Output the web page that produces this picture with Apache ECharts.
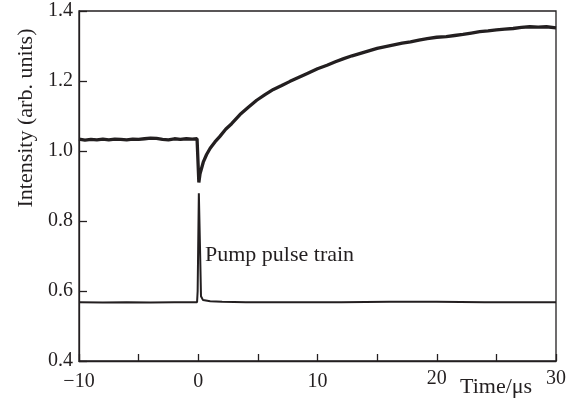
<!DOCTYPE html>
<html>
<head>
<meta charset="utf-8">
<script src="https://cdn.jsdelivr.net/npm/echarts@6/dist/echarts.min.js"></script>
<style>html,body{margin:0;padding:0;background:#fff}#c{width:574px;height:398px}</style>
</head>
<body>
<div id="c"></div>
<script>
// Upper trace: probe intensity (time in µs, intensity arb. units)
var upperTime = [-10,-9.5,-9,-8.5,-8,-7.5,-7,-6.5,-6,-5.5,-5,-4.5,-4,-3.5,-3,-2.5,-2,-1.5,-1,-0.5,-0.1,0.0,0.05,0.15,0.42,0.7,1.0,1.4,1.8,2.3,2.8,3.5,4.2,4.9,5.6,6.3,7.0,7.7,8.4,9.1,10.0,10.8,11.5,12.2,12.9,13.6,14.3,15.0,15.7,16.4,17.1,17.8,18.5,19.2,20.0,20.8,21.5,22.2,22.9,23.6,24.3,25.0,25.7,26.4,27.1,27.8,28.5,29.2,30.0];
var upperValue = [1.034,1.031,1.033,1.032,1.034,1.032,1.034,1.033,1.032,1.034,1.033,1.035,1.037,1.036,1.033,1.032,1.035,1.033,1.035,1.034,1.035,1.030,0.910,0.935,0.968,0.990,1.008,1.026,1.041,1.062,1.078,1.104,1.125,1.145,1.161,1.176,1.187,1.199,1.210,1.221,1.235,1.245,1.255,1.264,1.272,1.279,1.286,1.293,1.298,1.303,1.308,1.312,1.317,1.321,1.325,1.327,1.330,1.333,1.337,1.341,1.343,1.346,1.348,1.350,1.353,1.355,1.354,1.355,1.352];
// Lower trace: pump pulse train
var lowerTime = [-10,-8,-6,-4,-2,-0.1,-0.05,0.05,0.15,0.23,0.4,1,2,4,8,12,16,20,24,28,30];
var lowerValue = [0.568,0.567,0.568,0.567,0.568,0.568,0.600,0.879,0.720,0.585,0.574,0.571,0.569,0.568,0.568,0.568,0.569,0.569,0.568,0.568,0.568];
var xTicks = {min: -10, max: 30, step: 5, labelStep: 10};
var yTicks = {min: 0.4, max: 1.4, step: 0.2};
var xName = 'Time/μs';
var yName = 'Intensity (arb. units)';
var annotation = 'Pump pulse train';

function zip(a, b) { return a.map(function (v, i) { return [v, b[i]]; }); }

var ink = '#231f20';
var font = "'Liberation Serif', 'Times New Roman', serif";
var chart = echarts.init(document.getElementById('c'));
chart.setOption({
  animation: false,
  backgroundColor: '#fff',
  grid: {left: 79, right: 18, top: 11, bottom: 37, show: true, borderColor: ink, borderWidth: 1.3, backgroundColor: 'transparent'},
  xAxis: {
    type: 'value', min: xTicks.min, max: xTicks.max, interval: xTicks.step,
    axisLine: {show: true, onZero: false, lineStyle: {color: ink, width: 1.3}},
    axisTick: {show: true, inside: true, length: 7, lineStyle: {color: ink, width: 1.3}},
    splitLine: {show: false},
    axisLabel: {
      color: ink, fontFamily: font, fontSize: 20, margin: 8,
      formatter: function (v) {
        if (Math.abs(v % xTicks.labelStep) > 1e-9) return '';
        var s = v < 0 ? '\u2212' + Math.abs(v) : String(v);
        return v >= 20 ? '{hi|' + s + '}' : '{lo|' + s + '}';
      },
      rich: {
        hi: {color: ink, fontFamily: font, fontSize: 20, padding: [0, 0, 0, 0]},
        lo: {color: ink, fontFamily: font, fontSize: 20, padding: [3, 0, 0, 0]}
      }
    }
  },
  yAxis: {
    type: 'value', min: yTicks.min, max: yTicks.max, interval: yTicks.step,
    axisLine: {show: true, onZero: false, lineStyle: {color: ink, width: 1.3}},
    axisTick: {show: true, inside: true, length: 8, lineStyle: {color: ink, width: 1.3}},
    splitLine: {show: false},
    axisLabel: {color: ink, fontFamily: font, fontSize: 20, margin: 6,
      formatter: function (v) { return v.toFixed(1); }}
  },
  series: [
    {type: 'line', data: zip(upperTime, upperValue), showSymbol: false, symbol: 'none',
     lineStyle: {color: ink, width: 3.3}, z: 3},
    {type: 'line', data: zip(lowerTime, lowerValue), showSymbol: false, symbol: 'none',
     lineStyle: {color: ink, width: 2}, z: 3}
  ],
  graphic: [
    {type: 'text', x: 26, y: 118, rotation: Math.PI / 2,
     style: {text: yName, fill: ink, font: '22px ' + font, textAlign: 'center', textVerticalAlign: 'middle'}},
    {type: 'text', x: 460, y: 387,
     style: {text: xName, fill: ink, font: '22px ' + font, textAlign: 'left', textVerticalAlign: 'middle'}},
    {type: 'text', x: 205, y: 255,
     style: {text: annotation, fill: ink, font: '22px ' + font, textAlign: 'left', textVerticalAlign: 'middle'}}
  ]
});
</script>
</body>
</html>
